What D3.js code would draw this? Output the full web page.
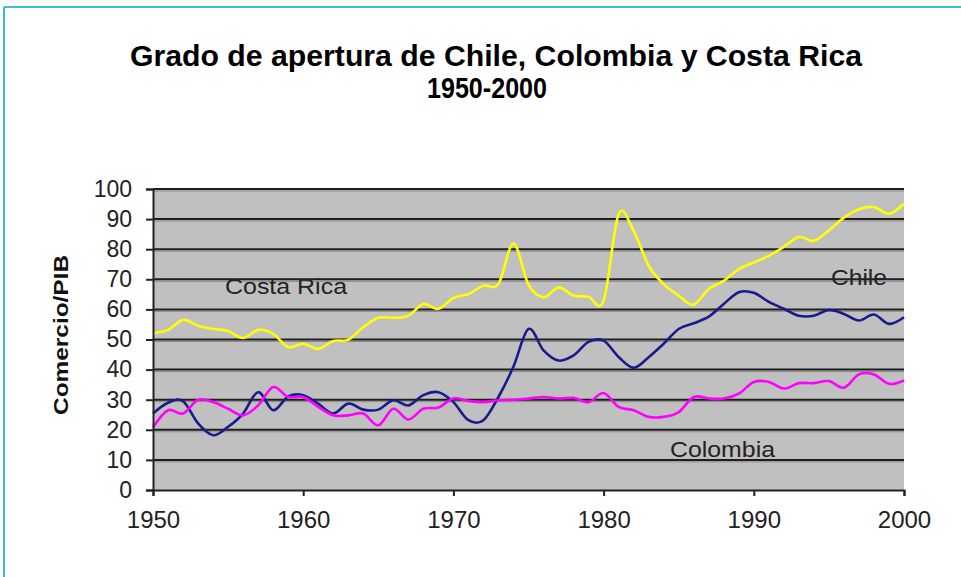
<!DOCTYPE html>
<html>
<head>
<meta charset="utf-8">
<script src="https://cdn.jsdelivr.net/npm/d3@7"></script>
<style>
    body { margin: 0; background: #fff; }
    svg { display: block; font-family: 'Liberation Sans', Arial, sans-serif; }
</style>
</head>
<body>
<div class="chart-node"></div>
<script>
const width = 961, height = 577

// data, one value per year
const years = d3.range(1950, 2001)
const costaRica = [52.1, 53.2, 56.5, 54.6, 53.5, 52.8, 50.5, 53.2, 51.9, 47.5,
    48.6, 46.9, 49.5, 49.9, 54.1, 57.2, 57.2, 57.9, 61.8, 60.2,
    63.8, 65.1, 67.9, 68.4, 81.9, 68.2, 64.0, 67.3, 64.6, 64.2,
    62.9, 91.6, 86.1, 74.5, 68.4, 64.6, 61.6, 66.8, 69.5, 73.4,
    75.6, 77.8, 80.8, 84.1, 82.8, 86.3, 90.5, 93.3, 94.0, 91.8, 95.1]
const chile = [25.4, 29.0, 29.5, 22.1, 18.2, 21.0, 25.4, 32.5, 26.5, 31.1,
    31.5, 28.7, 25.4, 28.7, 26.7, 26.7, 29.8, 28.1, 31.5, 32.5,
    29.2, 23.2, 23.2, 30.9, 41.0, 53.5, 46.4, 43.0, 44.7, 49.2,
    49.6, 44.2, 40.6, 44.1, 48.6, 53.5, 55.4, 57.6, 61.8, 65.7,
    65.5, 62.5, 60.2, 57.9, 57.9, 59.8, 58.5, 56.3, 58.3, 55.2, 57.4]
const colombia = [20.8, 26.5, 25.4, 30.0, 29.2, 27.0, 24.8, 28.1, 34.2, 30.9,
    30.9, 27.6, 24.8, 24.8, 25.4, 21.5, 27.0, 23.4, 27.0, 27.4,
    30.4, 29.6, 29.2, 29.8, 30.0, 30.4, 30.9, 30.4, 30.6, 29.2,
    32.2, 27.6, 26.5, 24.3, 24.3, 25.9, 30.9, 30.4, 30.4, 32.0,
    35.9, 35.9, 33.7, 35.5, 35.5, 36.2, 34.0, 38.4, 38.4, 35.3, 36.4]
const yTicks = [0, 10, 20, 30, 40, 50, 60, 70, 80, 90, 100]
const xTicks = [1950, 1960, 1970, 1980, 1990, 2000]

const series = [
    { name: 'Costa Rica', values: costaRica, color: '#ffff00' },
    { name: 'Chile', values: chile, color: '#1a1a8c' },
    { name: 'Colombia', values: colombia, color: '#ff00ff' }
]

const svg = d3.select('.chart-node').append('svg')
    .attr('width', width)
    .attr('height', height)

// teal frame on top and left
svg.append('line')
    .attr('x1', 4).attr('x2', width).attr('y1', 7).attr('y2', 7)
    .style('stroke', '#3dbdcd').style('stroke-width', 2)
svg.append('line')
    .attr('x1', 4).attr('x2', 4).attr('y1', 7).attr('y2', height)
    .style('stroke', '#3dbdcd').style('stroke-width', 2)

const x = d3.scaleLinear()
    .domain([1950, 2000])
    .range([153, 904])

const y = d3.scaleLinear()
    .domain([0, 100])
    .range([490, 189])

// title
svg.append('text')
    .text('Grado de apertura de Chile, Colombia y Costa Rica')
    .attr('x', 496).attr('y', 66)
    .attr('textLength', 732).attr('lengthAdjust', 'spacingAndGlyphs')
    .style('text-anchor', 'middle')
    .style('font-weight', 'bold')
    .style('font-size', '29px')
svg.append('text')
    .text('1950-2000')
    .attr('x', 487).attr('y', 98)
    .attr('textLength', 120).attr('lengthAdjust', 'spacingAndGlyphs')
    .style('text-anchor', 'middle')
    .style('font-weight', 'bold')
    .style('font-size', '29px')

// plot background
svg.append('rect')
    .attr('x', x(1950)).attr('y', y(100))
    .attr('width', x(2000) - x(1950)).attr('height', y(0) - y(100))
    .style('fill', '#c0c0c0')

// gridlines with a soft shadow under each one
const grid = svg.append('g').attr('class', 'grid')
grid.selectAll('.shadow')
    .data(yTicks.slice(1))
    .enter().append('line')
    .attr('class', 'shadow')
    .attr('x1', x(1950)).attr('x2', x(2000))
    .attr('y1', d => y(d) + 2).attr('y2', d => y(d) + 2)
    .style('stroke', '#8a8a8a').style('stroke-width', 1)
grid.selectAll('.major')
    .data(yTicks.slice(1))
    .enter().append('line')
    .attr('class', 'major')
    .attr('x1', x(1950)).attr('x2', x(2000))
    .attr('y1', d => y(d)).attr('y2', d => y(d))
    .style('stroke', '#1e1e1e').style('stroke-width', 2)

// series labels
const labels = [
    { text: 'Costa Rica', x: 225, y: 294, len: 122 },
    { text: 'Chile', x: 831, y: 285, len: 56 },
    { text: 'Colombia', x: 670, y: 457, len: 105 }
]
svg.append('g').selectAll('text')
    .data(labels)
    .enter().append('text')
    .text(d => d.text)
    .attr('x', d => d.x).attr('y', d => d.y)
    .attr('textLength', d => d.len).attr('lengthAdjust', 'spacingAndGlyphs')
    .style('font-size', '22px')
    .style('fill', '#222')

// lines, smoothed like the spreadsheet
const line = d3.line()
    .x((d, i) => x(years[i]))
    .y(d => y(d))
    .curve(d3.curveCatmullRom.alpha(0))

svg.append('g').attr('class', 'lines')
    .selectAll('path')
    .data(series)
    .enter().append('path')
    .attr('d', d => line(d.values))
    .style('fill', 'none')
    .style('stroke', d => d.color)
    .style('stroke-width', 2.6)
    .style('stroke-linejoin', 'round')

// axes
const xAxis = svg.append('g')
    .attr('transform', 'translate(0,' + y(0) + ')')
    .call(d3.axisBottom(x).tickValues(xTicks).tickFormat(d3.format('d')).tickSize(6).tickPadding(15))
const yAxis = svg.append('g')
    .attr('transform', 'translate(' + x(1950) + ',0)')
    .call(d3.axisLeft(y).tickValues(yTicks).tickSize(7).tickPadding(14))

xAxis.selectAll('path, line').style('stroke', '#222').style('stroke-width', 2)
yAxis.selectAll('path, line').style('stroke', '#222').style('stroke-width', 2)
xAxis.selectAll('text').style('font-size', '24px').style('fill', '#222')
    .style('font-family', "'Liberation Sans', Arial, sans-serif")
yAxis.selectAll('text').style('font-size', '23px').style('fill', '#222')
    .style('font-family', "'Liberation Sans', Arial, sans-serif")

// y axis title
svg.append('text')
    .text('Comercio/PIB')
    .attr('transform', 'translate(68,335) rotate(-90)')
    .attr('textLength', 160).attr('lengthAdjust', 'spacingAndGlyphs')
    .style('text-anchor', 'middle')
    .style('font-weight', 'bold')
    .style('font-size', '21px')
    .style('fill', '#111')
</script>
</body>
</html>
